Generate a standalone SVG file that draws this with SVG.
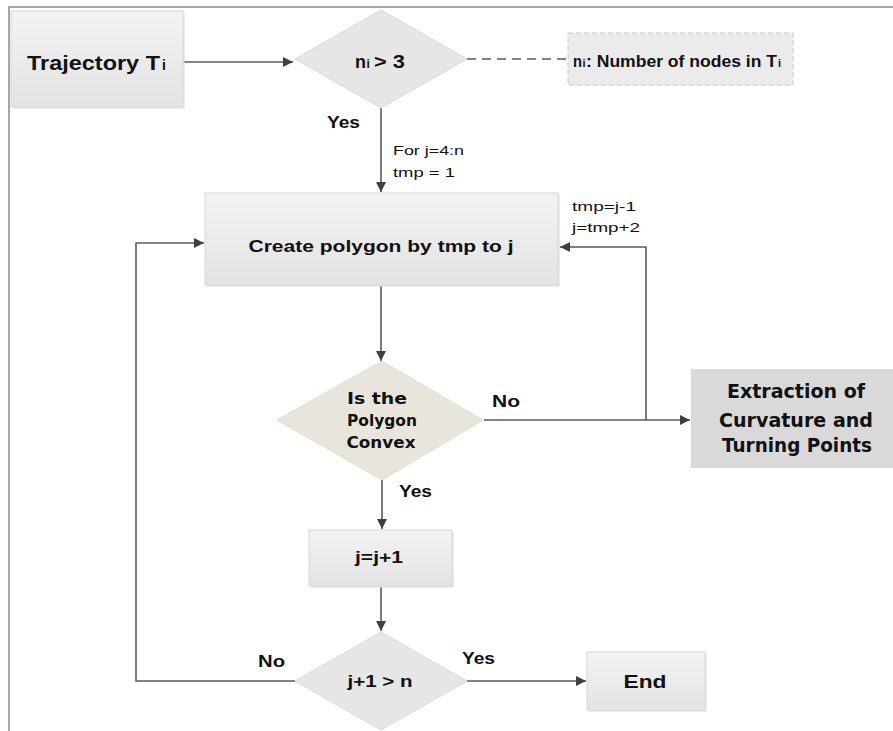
<svg xmlns="http://www.w3.org/2000/svg" width="893" height="731" viewBox="0 0 893 731">
<style>
text{font-family:"Liberation Sans",Arial,sans-serif;fill:#111;}
.b{font-weight:bold;}
.box{fill:url(#g);stroke:#d6d6d6;stroke-width:1;}
.dia{fill:#e6e6e6;stroke:#dadada;stroke-width:1;}
.ln{fill:none;stroke:#5a5a5a;stroke-width:1.6;}
.frame{fill:none;stroke:#a6a6a6;stroke-width:2;}
.dv{font-family:"DejaVu Sans",sans-serif;font-weight:bold;}
</style>
<defs>
<linearGradient id="g" x1="0" y1="0" x2="0" y2="1">
<stop offset="0" stop-color="#f3f3f3"/>
<stop offset="1" stop-color="#e3e3e3"/>
</linearGradient>
<marker id="ar" viewBox="0 0 10 10" refX="10" refY="5" markerWidth="10" markerHeight="10" markerUnits="userSpaceOnUse" orient="auto">
<path d="M0,0 L10,5 L0,10 Z" fill="#404040"/>
</marker>
</defs>
<path class="frame" d="M9,731 V7 H893"/>
<g id="connectors">
<line class="ln" x1="183" y1="62" x2="293" y2="62" marker-end="url(#ar)"/>
<line class="ln" x1="467" y1="59" x2="568" y2="59" stroke-dasharray="9,6"/>
<line class="ln" x1="381" y1="108" x2="381" y2="192" marker-end="url(#ar)"/>
<line class="ln" x1="381" y1="286" x2="381" y2="361" marker-end="url(#ar)"/>
<line class="ln" x1="484" y1="420" x2="690" y2="420" marker-end="url(#ar)"/>
<polyline class="ln" points="646,420 646,247 560,247" marker-end="url(#ar)"/>
<line class="ln" x1="382" y1="480" x2="382" y2="529" marker-end="url(#ar)"/>
<line class="ln" x1="381" y1="587" x2="381" y2="631" marker-end="url(#ar)"/>
<polyline class="ln" points="295,681 136,681 136,243 204,243" marker-end="url(#ar)"/>
<line class="ln" x1="467" y1="681" x2="586" y2="681" marker-end="url(#ar)"/>
<text x="327" y="128" font-size="16" class="b" textLength="33" lengthAdjust="spacingAndGlyphs">Yes</text>
<text x="393" y="155" font-size="13" textLength="71" lengthAdjust="spacingAndGlyphs">For j=4:n</text>
<text x="393" y="177" font-size="13" textLength="62" lengthAdjust="spacingAndGlyphs">tmp = 1</text>
<text x="572" y="211" font-size="13" textLength="64" lengthAdjust="spacingAndGlyphs">tmp=j-1</text>
<text x="572" y="232" font-size="13" textLength="68" lengthAdjust="spacingAndGlyphs">j=tmp+2</text>
<text x="492" y="407" font-size="16" class="b" textLength="28" lengthAdjust="spacingAndGlyphs">No</text>
<text x="399" y="497" font-size="16" class="b" textLength="33" lengthAdjust="spacingAndGlyphs">Yes</text>
<text x="258" y="667" font-size="16" class="b" textLength="27" lengthAdjust="spacingAndGlyphs">No</text>
<text x="462" y="664" font-size="16" class="b" textLength="33" lengthAdjust="spacingAndGlyphs">Yes</text>
</g>
<g id="trajectory">
<rect x="13" y="13" width="172" height="96" fill="#d8d8d8" opacity="0.5"/>
<rect x="11" y="11" width="172" height="96" class="box"/>
<text x="27" y="70" font-size="21" class="b" textLength="133" lengthAdjust="spacingAndGlyphs">Trajectory T</text>
<text x="162" y="70" font-size="14" class="b">i</text>
</g>
<g id="cond-n">
<polygon class="dia" points="381,10 467,59 381,108 295,59"/>
<text x="355" y="68" font-size="18" class="b" textLength="11" lengthAdjust="spacingAndGlyphs">n</text>
<text x="366.5" y="68" font-size="12" class="b">i</text>
<text x="374" y="68" font-size="18" class="b" textLength="31" lengthAdjust="spacingAndGlyphs">&gt; 3</text>
</g>
<g id="note">
<rect x="568" y="33" width="225" height="52" fill="#ebebeb" stroke="#c8c8c8" stroke-dasharray="5,3"/>
<text x="573" y="67" font-size="16" class="b" textLength="9" lengthAdjust="spacingAndGlyphs">n</text>
<text x="582.5" y="67" font-size="11" class="b">i</text>
<text x="586" y="67" font-size="16" class="b" textLength="191" lengthAdjust="spacingAndGlyphs">: Number of nodes in T</text>
<text x="778" y="67" font-size="11" class="b">i</text>
</g>
<g id="create">
<rect x="207" y="195" width="353" height="92" fill="#d8d8d8" opacity="0.5"/>
<rect x="205" y="193" width="353" height="92" class="box"/>
<text x="381" y="252" font-size="17" class="b" text-anchor="middle" textLength="265" lengthAdjust="spacingAndGlyphs">Create polygon by tmp to j</text>
</g>
<g id="convex">
<polygon points="382,361 483,420 382,480 277,420" fill="#e8e6dc" stroke="#e0ddd0"/>
<text x="377" y="404" font-size="15.5" class="dv" text-anchor="middle" textLength="60" lengthAdjust="spacingAndGlyphs">Is the</text>
<text x="382" y="426" font-size="15.5" class="dv" text-anchor="middle" textLength="70" lengthAdjust="spacingAndGlyphs">Polygon</text>
<text x="381" y="448" font-size="15.5" class="dv" text-anchor="middle" textLength="69" lengthAdjust="spacingAndGlyphs">Convex</text>
</g>
<g id="extraction">
<rect x="691" y="369" width="202" height="99" fill="#d9d9d9"/>
<text x="796" y="398" font-size="20" class="dv" text-anchor="middle" textLength="138" lengthAdjust="spacingAndGlyphs">Extraction of</text>
<text x="796" y="427" font-size="20" class="dv" text-anchor="middle" textLength="154" lengthAdjust="spacingAndGlyphs">Curvature and</text>
<text x="797" y="452" font-size="20" class="dv" text-anchor="middle" textLength="150" lengthAdjust="spacingAndGlyphs">Turning Points</text>
</g>
<g id="increment">
<rect x="311" y="532" width="143" height="56" fill="#d8d8d8" opacity="0.5"/>
<rect x="309" y="530" width="143" height="56" class="box"/>
<text x="379" y="563" font-size="17" class="b" text-anchor="middle" textLength="48" lengthAdjust="spacingAndGlyphs">j=j+1</text>
</g>
<g id="cond-j">
<polygon class="dia" points="381,632 467,681 381,730 295,681"/>
<text x="380" y="687" font-size="17" class="b" text-anchor="middle" textLength="65" lengthAdjust="spacingAndGlyphs">j+1 &gt; n</text>
</g>
<g id="end">
<rect x="589" y="654" width="118" height="58" fill="#d8d8d8" opacity="0.5"/>
<rect x="587" y="652" width="118" height="58" class="box"/>
<text x="645" y="688" font-size="19" class="b" text-anchor="middle" textLength="43" lengthAdjust="spacingAndGlyphs">End</text>
</g>
</svg>
